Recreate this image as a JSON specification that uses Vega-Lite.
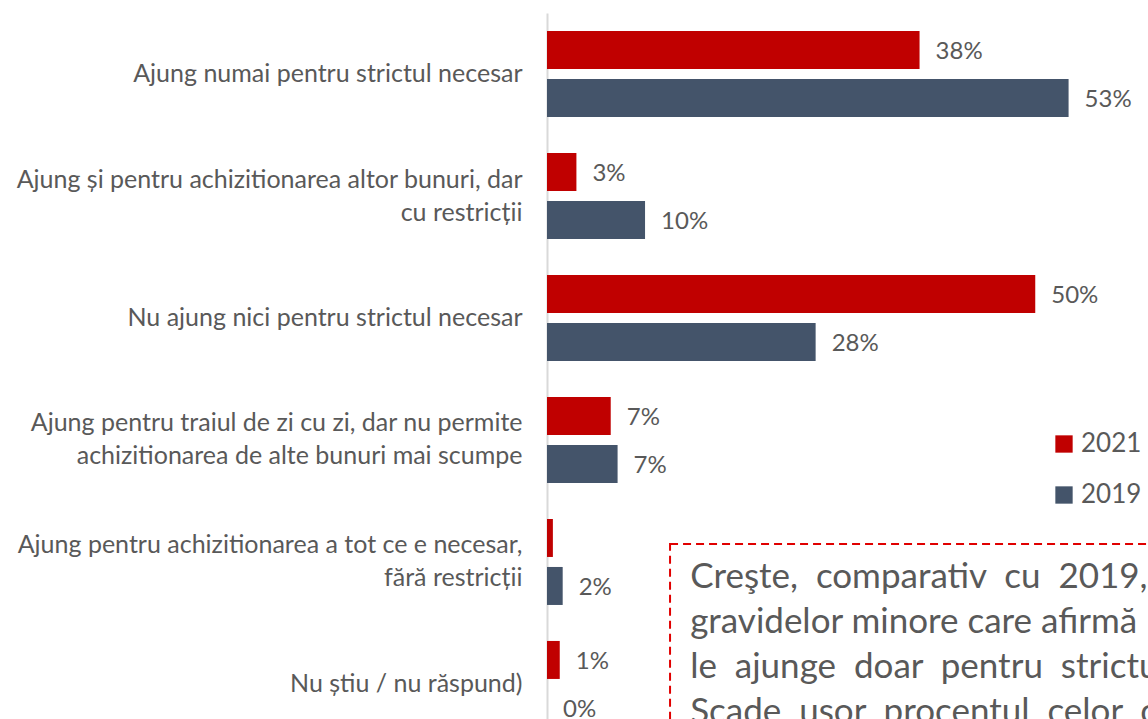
{
  "$schema": "https://vega.github.io/schema/vega-lite/v6.json",
  "width": 601,
  "height": 706,
  "autosize": {"type": "none"},
  "padding": {"left": 547, "top": 13, "right": 0, "bottom": 0},
  "background": "white",
  "config": {"view": {"stroke": null}, "font": "Lato"},
  "datasets": {
    "bars": [
      {"categorie": "Ajung numai pentru strictul necesar", "an": "2021", "procent": 38.0, "eticheta": "38%"},
      {"categorie": "Ajung numai pentru strictul necesar", "an": "2019", "procent": 53.2, "eticheta": "53%"},
      {"categorie": "Ajung și pentru achizitionarea altor bunuri, dar|cu restricții", "an": "2021", "procent": 3.0, "eticheta": "3%"},
      {"categorie": "Ajung și pentru achizitionarea altor bunuri, dar|cu restricții", "an": "2019", "procent": 10.0, "eticheta": "10%"},
      {"categorie": "Nu ajung nici pentru strictul necesar", "an": "2021", "procent": 49.8, "eticheta": "50%"},
      {"categorie": "Nu ajung nici pentru strictul necesar", "an": "2019", "procent": 27.4, "eticheta": "28%"},
      {"categorie": "Ajung pentru traiul de zi cu zi, dar nu permite|achizitionarea de alte bunuri mai scumpe", "an": "2021", "procent": 6.5, "eticheta": "7%"},
      {"categorie": "Ajung pentru traiul de zi cu zi, dar nu permite|achizitionarea de alte bunuri mai scumpe", "an": "2019", "procent": 7.2, "eticheta": "7%"},
      {"categorie": "Ajung pentru achizitionarea a tot ce e necesar,|fără restricții", "an": "2021", "procent": 0.6, "eticheta": ""},
      {"categorie": "Ajung pentru achizitionarea a tot ce e necesar,|fără restricții", "an": "2019", "procent": 1.6, "eticheta": "2%"},
      {"categorie": "Nu știu / nu răspund)", "an": "2021", "procent": 1.3, "eticheta": "1%"},
      {"categorie": "Nu știu / nu răspund)", "an": "2019", "procent": 0.0, "eticheta": "0%"}
    ],
    "box": [{"x0": 12.55, "x1": 90, "y0": 4.352, "y1": 7}],
    "note": [
      {"x": 14.6, "rand": 4.713, "text": "Creşte, \u00a0comparativ \u00a0cu \u00a02019,"},
      {"x": 14.6, "rand": 5.082, "text": "gravidelor minore care afirmă"},
      {"x": 14.6, "rand": 5.451, "text": "le \u00a0ajunge \u00a0doar \u00a0pentru \u00a0strictul"},
      {"x": 14.6, "rand": 5.82, "text": "Scade \u00a0usor \u00a0procentul \u00a0celor \u00a0care"}
    ]
  },
  "layer": [
    {
      "data": {"name": "bars"},
      "encoding": {
        "y": {
          "field": "categorie",
          "type": "nominal",
          "sort": null,
          "scale": {"range": [0, 732], "paddingInner": 0.295, "paddingOuter": 0.148},
          "axis": {
            "title": null,
            "domain": true,
            "domainColor": "#d9d9d9",
            "domainWidth": 2,
            "ticks": false,
            "grid": false,
            "labelFontSize": 25,
            "labelFont": "Lato",
            "labelColor": "#595959",
            "labelPadding": 25,
            "labelLimit": 700,
            "labelAlign": "right",
            "labelBaseline": "middle",
            "labelLineHeight": 33,
            "labelOffset": {"condition": {"test": "indexof(datum.label, '|') >= 0", "value": -16.5}, "value": 0},
            "labelExpr": "split(datum.label, '|')"
          }
        },
        "yOffset": {"field": "an", "type": "nominal", "sort": ["2021", "2019"], "scale": {"paddingInner": 0.2083, "paddingOuter": 0}},
        "x": {"field": "procent", "type": "quantitative", "scale": {"domain": [0, 61.3], "nice": false, "zero": true}, "axis": null}
      },
      "layer": [
        {
          "mark": {"type": "bar"},
          "encoding": {
            "color": {
              "field": "an",
              "type": "nominal",
              "scale": {"domain": ["2021", "2019"], "range": ["#C00000", "#44546A"]},
              "legend": {
                "orient": "none",
                "legendX": 504,
                "legendY": 418,
                "title": null,
                "symbolType": "square",
                "symbolSize": 300,
                "symbolStrokeWidth": 0,
                "labelFontSize": 26,
                "labelFont": "Lato",
                "labelColor": "#595959",
                "labelOffset": 4,
                "rowPadding": 25
              }
            }
          }
        },
        {
          "mark": {"type": "text", "align": "left", "baseline": "middle", "dx": 16, "dy": 2, "fontSize": 24, "font": "Lato", "color": "#595959"},
          "encoding": {"text": {"field": "eticheta"}}
        }
      ]
    },
    {
      "data": {"name": "box"},
      "mark": {"type": "rect", "fill": "white", "stroke": "#e00000", "strokeDash": [8, 5], "strokeWidth": 2},
      "encoding": {
        "x": {"field": "x0", "type": "quantitative"},
        "x2": {"field": "x1"},
        "y": {"field": "y0", "type": "quantitative", "scale": {"domain": [0, 6], "range": [0, 732], "nice": false}, "axis": null},
        "y2": {"field": "y1"}
      }
    },
    {
      "data": {"name": "note"},
      "mark": {"type": "text", "align": "left", "baseline": "alphabetic", "fontSize": 35, "font": "Lato", "color": "#595959"},
      "encoding": {
        "x": {"field": "x", "type": "quantitative"},
        "y": {"field": "rand", "type": "quantitative", "scale": {"domain": [0, 6], "range": [0, 732], "nice": false}, "axis": null},
        "text": {"field": "text"}
      }
    }
  ],
  "resolve": {"scale": {"y": "independent"}}
}
